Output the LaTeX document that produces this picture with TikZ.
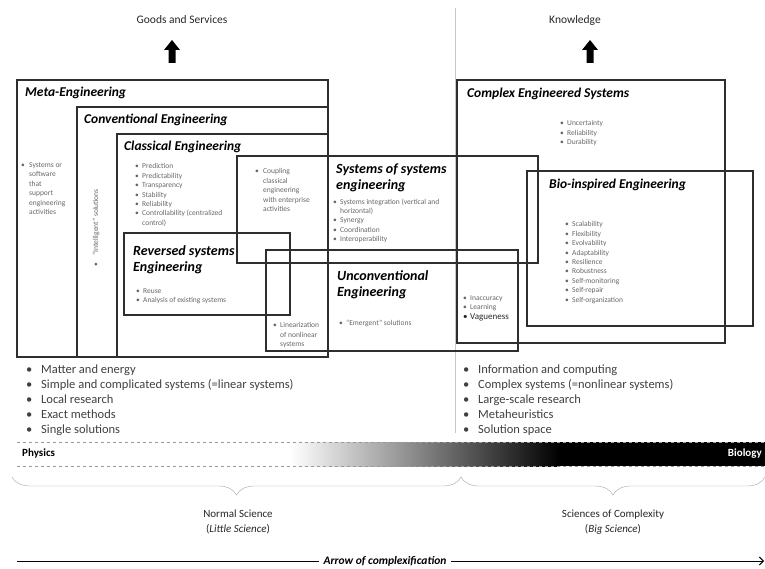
\documentclass[tikz,border=0pt]{standalone}
\usepackage{fontspec}
\setmainfont{Carlito}
\usetikzlibrary{decorations.pathreplacing,arrows.meta}
\newcommand{\bul}[1][7pt]{\makebox[#1][l]{\textbullet}}
\newcommand{\ind}[1][7pt]{\hspace*{#1}}
\tikzset{
    eng-box/.style = {draw=black!82, line width=1.4pt},
    eng-title/.style = {anchor=west, inner sep=0pt, font=\fontsize{13.5}{15}\selectfont\bfseries\itshape},
    eng-title-big/.style = {anchor=north west, inner sep=0pt, align=left, font=\fontsize{14}{16}\selectfont\bfseries\itshape},
    eng-list/.style = {anchor=north west, inner sep=0pt, align=left, text=black!60, font=\fontsize{7.5}{9.4}\selectfont},
    main-list/.style = {anchor=north west, inner sep=0pt, align=left, text=black!75, font=\fontsize{12.5}{15}\selectfont},
    head-label/.style = {inner sep=0pt, text=black!85, font=\fontsize{11.5}{13}\selectfont},
    up-arrow/.style = {fill=black},
    band-line/.style = {black!40, dashed, line width=0.6pt},
}

\begin{document}
\begin{tikzpicture}[x=1pt, y=-1pt]
\useasboundingbox (0,0) rectangle (765,569);

% top labels and arrows
\node[head-label] (goods) at (182,20) {Goods and Services};
\node[head-label] (knowledge) at (575,20) {Knowledge};
\fill[up-arrow] (172,40) -- (180,50) -- (175.5,50) -- (175.5,63) -- (168.5,63) -- (168.5,50) -- (164,50) -- cycle;
\fill[up-arrow] (590,40) -- (598,50) -- (593.5,50) -- (593.5,63) -- (586.5,63) -- (586.5,50) -- (582,50) -- cycle;

% separator
\draw[black!22, line width=1pt] (455,8) -- (455,433);

% boxes
\draw[eng-box] (17,80) rectangle (328,357);
\draw[eng-box] (77,107) rectangle (328,357);
\draw[eng-box] (117,134) rectangle (328,357);
\draw[eng-box] (237,156) rectangle (538,263);
\draw[eng-box] (124,233) rectangle (290,315);
\draw[eng-box] (266,250) rectangle (518,351);
\draw[eng-box] (457,80) rectangle (725,343);
\draw[eng-box] (527,171) rectangle (753,326);

% titles
\node[eng-title] (meta) at (25,93) {Meta-Engineering};
\node[eng-title] (conv) at (84,120) {Conventional Engineering};
\node[eng-title] (classic) at (124,147) {Classical Engineering};
\node[eng-title] (complex) at (467,94) {Complex Engineered Systems};
\node[eng-title] (bio) at (549,185) {Bio-inspired Engineering};
\node[eng-title-big] (sos) at (336,163.5) {Systems of systems\\engineering};
\node[eng-title-big] (reversed) at (133,245.5) {Reversed systems\\Engineering};
\node[eng-title-big] (unconv) at (337,270.5) {Unconventional\\Engineering};

% lists inside boxes
\node[eng-list] (meta-list) at (21,162.5) {\bul[8pt]Systems or\\\ind[8pt]software\\\ind[8pt]that\\\ind[8pt]support\\\ind[8pt]engineering\\\ind[8pt]activities};
\node[eng-list, anchor=center, rotate=90] (intel-list) at (96,228) {\textbullet\quad ``Intelligent'' solutions};
\node[eng-list] (classic-list) at (135,163.5) {\bul Prediction\\\bul Predictability\\\bul Transparency\\\bul Stability\\\bul Reliability\\\bul Controllability (centralized\\\ind control)};
\node[eng-list] (coupling-list) at (255,168.5) {\bul[8pt]Coupling\\\ind[8pt]classical\\\ind[8pt]engineering\\\ind[8pt]with enterprise\\\ind[8pt]activities};
\node[eng-list] (sos-list) at (333,198.5) {\bul Systems integration (vertical and\\\ind horizontal)\\\bul Synergy\\\bul Coordination\\\bul Interoperability};
\node[eng-list] (reversed-list) at (136,288.5) {\bul Reuse\\\bul Analysis of existing systems};
\node[eng-list] (linear-list) at (273,322.5) {\bul Linearization\\\ind of nonlinear\\\ind systems};
\node[eng-list] (emergent-list) at (339,319.5) {\bul[7pt]``Emergent'' solutions};
\node[eng-list] (vague-list) at (463,295.5) {\bul Inaccuracy\\\bul Learning\\{\fontsize{9}{9.4}\selectfont\color{black!85}\bul Vagueness}};
\node[eng-list] (complex-list) at (560,120.5) {\bul Uncertainty\\\bul Reliability\\\bul Durability};
\node[eng-list] (bio-list) at (565,221.5) {\bul Scalability\\\bul Flexibility\\\bul Evolvability\\\bul Adaptability\\\bul Resilience\\\bul Robustness\\\bul Self-monitoring\\\bul Self-repair\\\bul Self-organization};

% lists below boxes
\node[main-list] (physics-list) at (26,364.5) {\bul[15pt]Matter and energy\\\bul[15pt]Simple and complicated systems (=linear systems)\\\bul[15pt]Local research\\\bul[15pt]Exact methods\\\bul[15pt]Single solutions};
\node[main-list] (complexity-list) at (463,364.5) {\bul[15pt]Information and computing\\\bul[15pt]Complex systems (=nonlinear systems)\\\bul[15pt]Large-scale research\\\bul[15pt]Metaheuristics\\\bul[15pt]Solution space};

% physics to biology band
\shade[left color=white, right color=black] (290,442) rectangle (560,466);
\fill[black] (560,442) rectangle (765,466);
\draw[band-line] (17,442) -- (765,442);
\draw[band-line] (17,466) -- (765,466);
\node[anchor=west, inner sep=0pt, font=\fontsize{11}{12}\selectfont\bfseries] (physics) at (22,454) {Physics};
\node[anchor=east, inner sep=0pt, text=white, font=\fontsize{11}{12}\selectfont\bfseries] (biology) at (762,454) {Biology};

% braces
\draw[black!35, decorate, decoration={brace, mirror, amplitude=18pt}] (12,477) -- (461,477);
\draw[black!35, decorate, decoration={brace, mirror, amplitude=18pt}] (461,477) -- (765,477);
\node[head-label, align=center, font=\fontsize{11}{15}\selectfont] (normal) at (238,522) {Normal Science\\(\textit{Little Science})};
\node[head-label, align=center, font=\fontsize{11}{15}\selectfont] (sciences) at (613,522) {Sciences of Complexity\\(\textit{Big Science})};

% arrow of complexification
\coordinate (arrow-start) at (17,561);
\coordinate (arrow-end) at (764,561);
\draw[line width=1pt, -{Straight Barb[length=4pt]}] (arrow-start) -- (arrow-end);
\node[fill=white, inner xsep=5pt, font=\fontsize{11.5}{13}\selectfont\bfseries\itshape] (complexification) at (385,561) {Arrow of complexification};
\end{tikzpicture}
\end{document}
